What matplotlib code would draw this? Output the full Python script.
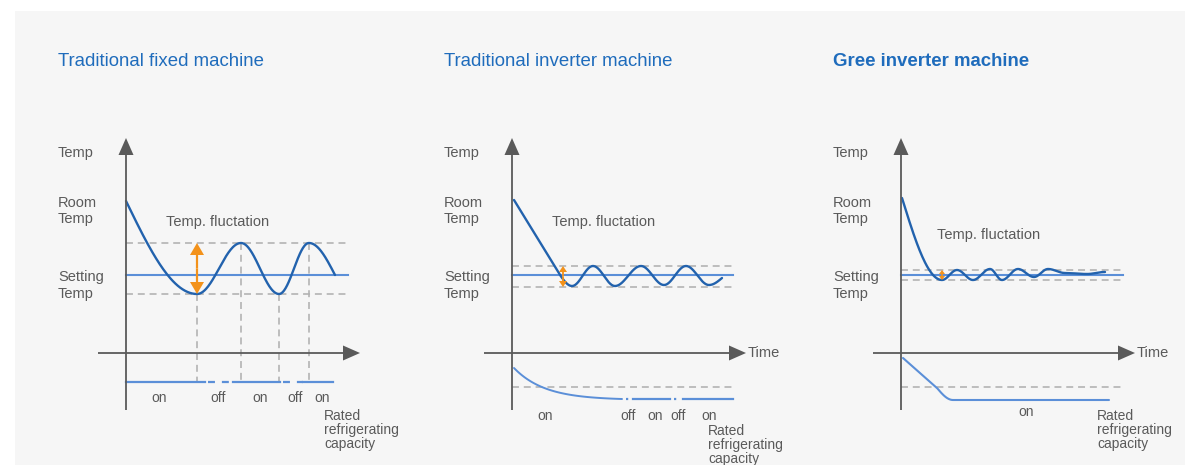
import numpy as np
import matplotlib
matplotlib.use('Agg')
import matplotlib.pyplot as plt
from matplotlib.patches import Rectangle

plt.rcParams['font.family'] = ['Liberation Sans', 'DejaVu Sans']
plt.rcParams['lines.scale_dashes'] = False

W, H, DPI = 1185, 465, 100

# ---------------- data ----------------
titles = ['Traditional fixed machine', 'Traditional inverter machine', 'Gree inverter machine']
title_bold = [False, False, True]
panel_origin_px = [126, 512, 901]          # where each panel's time axis starts

# temperature levels (height above the time axis)
setting_T = [78, 78, 78]
band_upper_T = [110, 87, 83]
band_lower_T = [59, 66, 73]
band_end_t = [222, 221, 222]

# temperature curves: key points and segment shapes
p1_curve_t = [0, 71, 115, 153, 183, 209]
p1_curve_T = [152, 59, 110, 59, 110, 78]
p1_curve_shape = ['out', 'cos', 'cos', 'cos', 'in']

p2_curve_t = [2, 48, 60, 81, 103, 129, 152, 174, 197, 210]
p2_curve_T = [153, 78, 67, 87, 67, 87, 68, 87, 68, 75]
p2_curve_shape = ['lin', 'out', 'cos', 'cos', 'cos', 'cos', 'cos', 'cos', 'in']

p3_curve_t = [1, 41, 56, 72, 89, 101, 117, 133, 147, 164, 186, 204]
p3_curve_T = [155, 73, 83, 73, 84, 73, 84, 76, 84, 80, 79, 81]
p3_curve_shape = ['out', 'cos', 'cos', 'cos', 'cos', 'cos', 'cos', 'cos', 'cos', 'cos', 'cos']

# fluctuation arrow (time, head length, head width, shaft width)
fluct_t = [71, 51, 41]
fluct_head_len = [12, 6, 4]
fluct_head_w = [14, 8, 6]
fluct_shaft_w = [2.2, 1.8, 1.5]

# panel 1 compressor switching
p1_switch_t = [71, 115, 153, 183]
p1_switch_T = [59, 110, 59, 110]
p1_cap_T = -29
p1_state_edges = [0, 79, 107, 154, 177, 207]
p1_states = ['on', 'off', 'on', 'off', 'on']
p1_state_label_t = [33, 92, 134, 169, 196]

# panel 2 refrigerating capacity
p2_rated_T = -34
p2_cap_t = [2, 110]
p2_cap_T = [-15, -46]
p2_cap_shape = ['exp']
p2_state_edges = [110, 121, 158, 171, 221]
p2_states = ['off', 'on', 'off', 'on']
p2_label_t = [33, 116, 143, 166, 197]
p2_labels = ['on', 'off', 'on', 'off', 'on']

# panel 3 refrigerating capacity
p3_rated_T = -34
p3_cap_t = [2, 36, 52, 208]
p3_cap_T = [-5, -35, -47, -47]
p3_cap_shape = ['lin', 'out', 'lin']
p3_label_t = [125]
p3_labels = ['on']

label_baseline_T = [-49, -67, -63]
rated_center_T = [-77, -92, -77]
rated_t = [198, 196, 196]
fluct_label_pos = [(40, 131), (40, 131), (36, 118)]

# ---------------- style ----------------
BG = '#f6f6f6'
TITLE_C = '#1f6cbc'
CURVE_C = '#2262ad'
SET_C = '#5b8fd8'
CAP_C = '#5b8fd8'
DASH_C = '#b3b3b3'
AX_C = '#5a5a5a'
TXT_C = '#5a5a5a'
ORANGE = '#f3921a'
OFF_PAD = 3

XL = (-90, 270)
YL = (-112, 228)


def ease(shape, u):
    if shape == 'lin':
        return u
    if shape == 'out':
        return np.sin(np.pi / 2 * u)
    if shape == 'in':
        return 1 - np.cos(np.pi / 2 * u)
    if shape == 'cos':
        return (1 - np.cos(np.pi * u)) / 2
    if shape == 'exp':
        k = 3.5
        return (1 - np.exp(-k * u)) / (1 - np.exp(-k))
    return u


def draw_curve(ax, ts, Ts, shapes, **kw):
    xs, ys = [], []
    u = np.linspace(0, 1, 60)
    for i, s in enumerate(shapes):
        xs.append(ts[i] + (ts[i + 1] - ts[i]) * u)
        ys.append(Ts[i] + (Ts[i + 1] - Ts[i]) * ease(s, u))
    ax.plot(np.concatenate(xs), np.concatenate(ys), solid_capstyle='round', **kw)


fig = plt.figure(figsize=(W / DPI, H / DPI), dpi=DPI)
fig.patch.set_facecolor('white')
fig.add_artist(Rectangle((15 / W, 0), (W - 15) / W, (H - 11) / H,
                         transform=fig.transFigure, fc=BG, ec='none', zorder=0))

txt = dict(color=TXT_C, fontsize=10.5)

axes = []
for i, ox in enumerate(panel_origin_px):
    ax = fig.add_axes([(ox + XL[0]) / W, 0, (XL[1] - XL[0]) / W, (YL[1] - YL[0]) / H])
    ax.set_xlim(*XL)
    ax.set_ylim(*YL)
    ax.axis('off')
    ax.patch.set_alpha(0)
    axes.append(ax)

    # title
    fig.text((ox - 68) / W, 1 - 61 / H, titles[i], color=TITLE_C, fontsize=13.4,
             fontweight='bold' if title_bold[i] else 'normal', va='center', ha='left')

    # axes arrows
    ax.arrow(0, -57, 0, 272, width=1.8, head_width=15, head_length=17,
             length_includes_head=True, fc=AX_C, ec='none', zorder=5)
    ax.arrow(-28, 0, 262, 0, width=1.8, head_width=15, head_length=17,
             length_includes_head=True, fc=AX_C, ec='none', zorder=5)

    # y labels
    ax.text(-68, 200, 'Temp', va='center', ha='left', **txt)
    ax.text(-68, 142, 'Room\nTemp', va='center', ha='left', linespacing=1.24, **txt)
    ax.text(-68, 67.5, 'Setting\nTemp', va='center', ha='left', linespacing=1.24, **txt)
    ax.text(fluct_label_pos[i][0], fluct_label_pos[i][1], 'Temp. fluctation',
            va='center', ha='left', **txt)
    if i > 0:
        ax.text(236, 0, 'Time', va='center', ha='left', **txt)

    # band lines
    ax.plot([0, band_end_t[i]], [setting_T[i]] * 2, color=SET_C, lw=1.5, zorder=2)
    for lvl in (band_upper_T[i], band_lower_T[i]):
        ax.plot([0, band_end_t[i]], [lvl, lvl], color=DASH_C, lw=1.2,
                linestyle=(0, (5, 3.5)), zorder=1)

    # rated capacity label
    ax.text(rated_t[i], rated_center_T[i], 'Rated\nrefrigerating\ncapacity', va='center',
            ha='left', color=TXT_C, fontsize=10, linespacing=1.03)

    # fluctuation arrow
    lo, hi = band_lower_T[i], band_upper_T[i]
    mid = (lo + hi) / 2
    for end in (hi, lo):
        ax.arrow(fluct_t[i], mid, 0, end - mid, width=fluct_shaft_w[i],
                 head_width=fluct_head_w[i], head_length=fluct_head_len[i],
                 length_includes_head=True, fc=ORANGE, ec='none', zorder=6)

# ---- panel 1 ----
ax = axes[0]
draw_curve(ax, p1_curve_t, p1_curve_T, p1_curve_shape, color=CURVE_C, lw=1.7, zorder=4)
for t, T in zip(p1_switch_t, p1_switch_T):
    ax.plot([t, t], [T, p1_cap_T], color=DASH_C, lw=1.2, linestyle=(0, (5, 3.5)), zorder=1)
for a, b, s in zip(p1_state_edges[:-1], p1_state_edges[1:], p1_states):
    if s == 'on':
        ax.plot([a, b], [p1_cap_T] * 2, color=CAP_C, lw=1.6, zorder=3)
    else:
        ax.plot([a + OFF_PAD, b], [p1_cap_T] * 2, color=CAP_C, lw=1.6,
                linestyle=(0, (5, 5)), zorder=3)
for t, s in zip(p1_state_label_t, p1_states):
    ax.text(t, label_baseline_T[0], s, ha='center', va='baseline', color=TXT_C, fontsize=10)

# ---- panel 2 ----
ax = axes[1]
draw_curve(ax, p2_curve_t, p2_curve_T, p2_curve_shape, color=CURVE_C, lw=1.7, zorder=4)
ax.plot([0, band_end_t[1]], [p2_rated_T] * 2, color=DASH_C, lw=1.2,
        linestyle=(0, (5, 3.5)), zorder=1)
draw_curve(ax, p2_cap_t, p2_cap_T, p2_cap_shape, color=CAP_C, lw=1.4, zorder=3)
capT = p2_cap_T[-1]
for a, b, s in zip(p2_state_edges[:-1], p2_state_edges[1:], p2_states):
    if s == 'on':
        ax.plot([a, b], [capT] * 2, color=CAP_C, lw=1.6, zorder=3)
    else:
        ax.plot([a + OFF_PAD + 1, b], [capT] * 2, color=CAP_C, lw=1.6,
                linestyle=(0, (1.6, 20)), zorder=3)
for t, s in zip(p2_label_t, p2_labels):
    ax.text(t, label_baseline_T[1], s, ha='center', va='baseline', color=TXT_C, fontsize=10)

# ---- panel 3 ----
ax = axes[2]
draw_curve(ax, p3_curve_t, p3_curve_T, p3_curve_shape, color=CURVE_C, lw=1.7, zorder=4)
ax.plot([0, band_end_t[2]], [p3_rated_T] * 2, color=DASH_C, lw=1.2,
        linestyle=(0, (5, 3.5)), zorder=1)
draw_curve(ax, p3_cap_t, p3_cap_T, p3_cap_shape, color=CAP_C, lw=1.5, zorder=3)
for t, s in zip(p3_label_t, p3_labels):
    ax.text(t, label_baseline_T[2], s, ha='center', va='baseline', color=TXT_C, fontsize=10)

fig.savefig('out.png', dpi=DPI)
